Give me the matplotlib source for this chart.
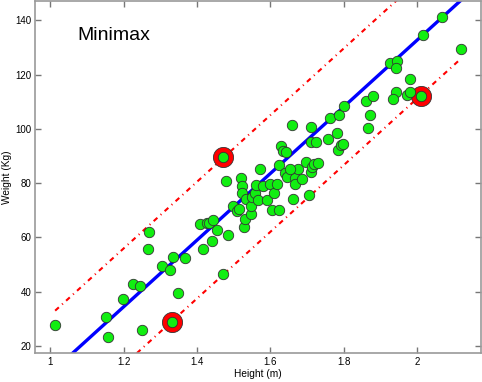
import numpy as np
import matplotlib
matplotlib.use("Agg")
import matplotlib.pyplot as plt
from matplotlib.ticker import FuncFormatter

plt.rcParams['font.family'] = ['Liberation Sans', 'DejaVu Sans']

# data
height = [1.013, 1.151, 1.157, 1.198, 1.226, 1.244, 1.251, 1.266, 1.270, 1.305,
          1.326, 1.335, 1.348, 1.367, 1.407, 1.417, 1.426, 1.433, 1.442, 1.445,
          1.454, 1.471, 1.485, 1.478, 1.498, 1.509, 1.516, 1.520, 1.524, 1.523,
          1.529, 1.530, 1.534, 1.547, 1.548, 1.550, 1.559, 1.562, 1.567, 1.573,
          1.580, 1.590, 1.600, 1.606, 1.610, 1.619, 1.623, 1.623, 1.628, 1.636,
          1.642, 1.639, 1.645, 1.660, 1.668, 1.668, 1.676, 1.686, 1.661, 1.698,
          1.707, 1.711, 1.712, 1.711, 1.714, 1.719, 1.725, 1.731, 1.758, 1.762,
          1.782, 1.784, 1.787, 1.792, 1.799, 1.800, 1.861, 1.879, 1.871, 1.868,
          1.927, 1.945, 1.943, 1.943, 1.936, 1.972, 1.982, 1.982, 2.016, 2.069,
          2.120, 1.332, 1.470, 2.012, 1.655]
weight = [27.7, 30.7, 23.4, 37.3, 43.0, 42.1, 25.9, 55.9, 61.9, 49.6,
          47.9, 52.9, 39.6, 52.5, 65.0, 55.6, 65.4, 65.2, 58.8, 66.3,
          62.7, 46.6, 61.0, 80.9, 71.7, 69.9, 70.4, 81.8, 79.0, 76.3,
          64.0, 66.8, 74.2, 68.5, 71.7, 75.0, 76.3, 79.2, 73.8, 85.3,
          79.0, 73.8, 79.8, 70.0, 76.3, 79.8, 70.0, 86.7, 93.8, 92.0,
          91.4, 83.9, 82.4, 101.3, 81.8, 79.7, 85.2, 81.5, 74.1, 87.9,
          75.5, 95.3, 100.7, 84.2, 86.1, 87.2, 95.1, 87.3, 96.2, 103.9,
          98.6, 92.1, 105.0, 94.2, 94.5, 108.4, 110.2, 112.1, 105.2, 100.3,
          124.4, 125.0, 122.5, 113.7, 111.0, 112.5, 113.7, 118.3, 134.5, 141.3,
          129.5, 28.7, 89.5, 112.1, 85.2]

# points that touch the minimax band
out_h = [1.332, 1.470, 2.012]
out_w = [28.7, 89.5, 112.1]

# fitted line and half-width of the band
slope = 122.7
intercept = -112.8
band = 21.5

h = np.array(height)
w = np.array(weight)
xs = np.array([h.min(), h.max()])
fit = slope * xs + intercept

fig = plt.figure(figsize=(4.82, 3.82), dpi=100)
ax = fig.add_axes([35/482, 29/382, 446/482, 352/382])

dd = (2.4, 2.1, 0.5, 2.1)
ax.plot(xs, fit + band, color='red', lw=1.5, dashes=dd)
ax.plot(xs, fit - band, color='red', lw=1.5, dashes=dd)
ax.plot(xs, fit, color='blue', lw=2.4)
ax.plot(out_h, out_w, 'o', ms=14.5, mfc='red', mec='#333333', mew=0.6)
ax.plot(h, w, 'o', ms=7.5, mfc='#11ee11', mec='#333333', mew=0.6)

ax.text(0.094, 0.903, 'Minimax', transform=ax.transAxes, fontsize=14,
        ha='left', va='center')

ax.set_xlim(0.958, 2.175)
ax.set_ylim(17.4, 147.1)
ax.set_xticks([1, 1.2, 1.4, 1.6, 1.8, 2])
ax.set_yticks([20, 40, 60, 80, 100, 120, 140])
ax.xaxis.set_major_formatter(FuncFormatter(lambda v, p: '%g' % v))
ax.tick_params(direction='in', length=4, width=1, color='#777777',
               labelsize=7, top=True, right=True)
ax.tick_params(axis='x', pad=3.2)
ax.tick_params(axis='y', pad=2.4)
for s in ax.spines.values():
    s.set_color('#999999')
    s.set_linewidth(1.2)

ax.set_xlabel('Height (m)', fontsize=7.3, va='center')
ax.set_ylabel('Weight (Kg)', fontsize=7.3, va='center')
ax.xaxis.set_label_coords(0.5, -0.0588)
ax.yaxis.set_label_coords(-0.062, 0.5)

fig.savefig('out.png', dpi=100)
